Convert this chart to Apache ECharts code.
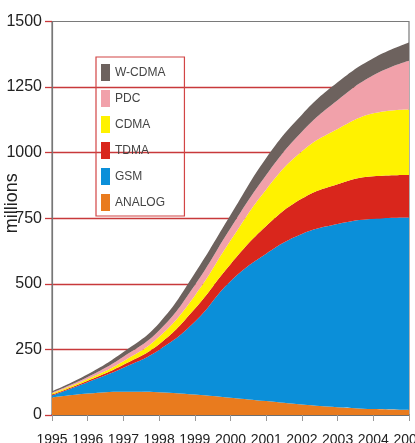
<!DOCTYPE html>
<html>
<head>
<meta charset="utf-8">
<script src="https://cdn.jsdelivr.net/npm/echarts@6/dist/echarts.min.js"></script>
<style>
  html, body { margin: 0; padding: 0; background: #fff; }
  #chart { width: 415px; height: 443px; }
</style>
</head>
<body>
<div id="chart"></div>
<script>
// subscribers per technology, millions
const years = ['1995', '1996', '1997', '1998', '1999', '2000', '2001', '2002', '2003', '2004', '2005'];
const analog = [67, 82, 89, 87, 78, 66, 53, 40, 30, 23, 20];
const gsm = [7, 43, 91, 161, 277, 444, 562, 650, 698, 725, 733];
const tdma = [4, 6, 12, 22, 50, 65, 105, 135, 152, 162, 162];
const cdma = [4, 6, 13, 28, 50, 90, 140, 180, 210, 240, 250];
const pdc = [4, 8, 17, 24, 40, 47, 55, 75, 110, 145, 185];
const wcdma = [4, 10, 18, 28, 45, 50, 65, 65, 68, 65, 70];

const legendOrder = ['W-CDMA', 'PDC', 'CDMA', 'TDMA', 'GSM', 'ANALOG'];
const yTicks = [0, 250, 500, 750, 1000, 1250, 1500];

const font = "'Liberation Sans', Arial, sans-serif";

const chart = echarts.init(document.getElementById('chart'));

const layer = (name, values, color) => ({
  name,
  type: 'line',
  stack: 'total',
  smooth: 0.45,
  showSymbol: false,
  symbol: 'none',
  lineStyle: { width: 0 },
  itemStyle: { color },
  areaStyle: { color, opacity: 1 },
  data: values
});

chart.setOption({
  animation: false,
  grid: {
    left: 52,
    right: 6,
    top: 21.5,
    bottom: 28,
    outerBoundsMode: 'none',
    containLabel: false,
    show: true,
    borderColor: '#7a7a7a',
    borderWidth: 1.2
  },
  legend: {
    data: legendOrder,
    orient: 'vertical',
    left: 96,
    top: 57,
    padding: [7, 19, 5, 5],
    itemWidth: 9,
    itemHeight: 17,
    itemGap: 9,
    icon: 'rect',
    selectedMode: false,
    borderColor: '#d24545',
    borderWidth: 1.2,
    textStyle: { fontFamily: font, fontSize: 12, color: '#444' }
  },
  xAxis: {
    type: 'category',
    data: years,
    boundaryGap: false,
    axisLine: { lineStyle: { color: '#555', width: 1.5 } },
    axisTick: { alignWithLabel: true, interval: 0, length: 6, lineStyle: { color: '#999' } },
    splitLine: { show: false },
    axisLabel: {
      interval: 0,
      margin: 18,
      fontFamily: font,
      fontSize: 14,
      color: '#222'
    }
  },
  yAxis: {
    type: 'value',
    min: yTicks[0],
    max: yTicks[yTicks.length - 1],
    interval: 250,
    name: 'millions',
    nameLocation: 'middle',
    nameGap: 31,
    nameMoveOverlap: false,
    nameTextStyle: { fontFamily: font, fontSize: 18, color: '#222', padding: [0, 0, 0, 30] },
    axisLine: { show: true, lineStyle: { color: '#777', width: 1.2 } },
    axisTick: { show: true, length: 7, lineStyle: { color: '#c8393b', width: 1.3 } },
    axisLabel: { margin: 10, fontFamily: font, fontSize: 16, color: '#222', formatter: v => String(v) },
    splitLine: {
      show: true,
      showMinLine: false,
      showMaxLine: false,
      lineStyle: { color: '#c8393b', width: 1.3 }
    }
  },
  series: [
    layer('ANALOG', analog, '#e97b1e'),
    layer('GSM', gsm, '#0b8fd9'),
    layer('TDMA', tdma, '#d9261c'),
    layer('CDMA', cdma, '#fff200'),
    layer('PDC', pdc, '#f1a1aa'),
    layer('W-CDMA', wcdma, '#6d625e')
  ]
});
</script>
</body>
</html>
